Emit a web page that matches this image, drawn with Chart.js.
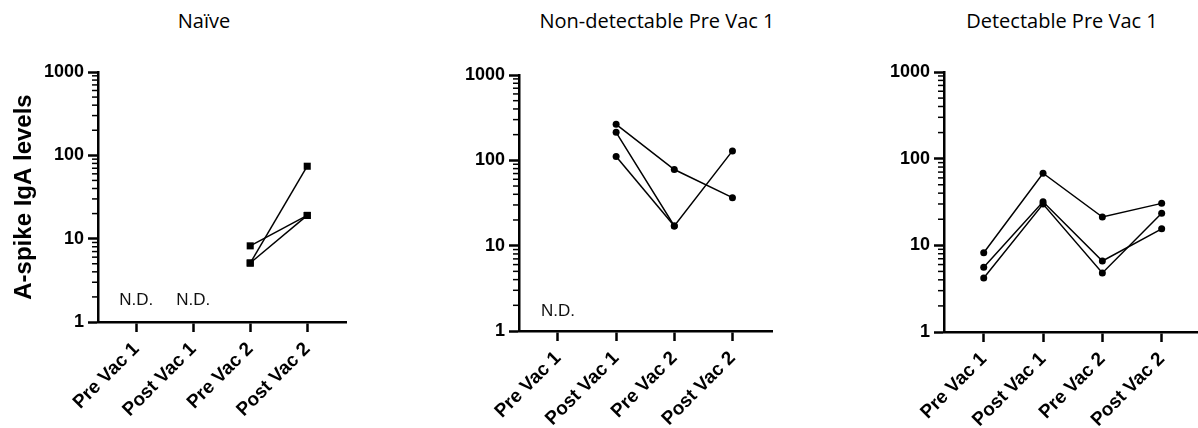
<!DOCTYPE html>
<html>
<head>
<meta charset="UTF-8">
<title>A-spike IgA levels</title>
<style>
body {
	margin: 0;
	background: #fff;
	width: 1198px;
	height: 428px;
	overflow: hidden;
	position: relative;
}
canvas {
	position: absolute;
	top: 0;
}
.ptitle {
	position: absolute;
	top: 11px;
	width: 340px;
	margin-left: -170px;
	text-align: center;
	font: 20px/20px 'Open Sans', sans-serif;
	color: #000;
}
</style>
<script src="https://cdn.jsdelivr.net/npm/chart.js@4/dist/chart.umd.min.js"></script>
</head>
<body>
<div class="ptitle" style="left:204px">Naïve</div>
<div class="ptitle" style="left:657px">Non-detectable Pre Vac 1</div>
<div class="ptitle" style="left:1062px">Detectable Pre Vac 1</div>
<canvas id="c1" width="351" height="428" style="left:0px"></canvas>
<canvas id="c2" width="356" height="428" style="left:420px"></canvas>
<canvas id="c3" width="366" height="428" style="left:840px"></canvas>
<script>
var categories = ['Pre Vac 1', 'Post Vac 1', 'Pre Vac 2', 'Post Vac 2'];
var yDecades = [1, 10, 100, 1000];
var yMinorSteps = [2, 3, 4, 5, 6, 7, 8, 9];
var yTitle = 'A-spike IgA levels';

// Naïve
var naive1 = [null, null, 8.2, 19];
var naive2 = [null, null, 5.1, 74];
var naive3 = [null, null, 5.1, 19];
var naiveND = [0, 1];

// Non-detectable Pre Vac 1
var nonDet1 = [null, 264, 78, 36.5];
var nonDet2 = [null, 213, 17, 129];
var nonDet3 = [null, 111, 17, null];
var nonDetND = [0];

// Detectable Pre Vac 1
var det1 = [8.2, 68, 21.2, 30.5];
var det2 = [5.6, 31.8, 6.6, 15.5];
var det3 = [4.2, 29.9, 4.8, 23.4];
var detND = [];

var fontFamily = '"Liberation Sans", Arial, Helvetica, sans-serif';

function isDecade(v) {
	return yDecades.indexOf(v) >= 0;
}

// petits ticks du log + texte N.D.
var extrasPlugin = {
	id: 'extras',
	afterDraw: function(chart, args, opts) {
		var ctx = chart.ctx;
		var xs = chart.scales.x, ys = chart.scales.y;
		var left = chart.chartArea.left;
		ctx.save();
		ctx.strokeStyle = '#000';
		ctx.lineWidth = 1.5;
		ys.ticks.forEach(function(t) {
			if (isDecade(t.value)) return;
			var py = ys.getPixelForValue(t.value);
			ctx.beginPath();
			ctx.moveTo(left - 6, py);
			ctx.lineTo(left, py);
			ctx.stroke();
		});
		ctx.fillStyle = '#111';
		ctx.font = '17px ' + fontFamily;
		ctx.textAlign = 'center';
		ctx.textBaseline = 'middle';
		opts.nd.forEach(function(i) {
			ctx.fillText('N.D.', xs.getPixelForValue(i), ys.getPixelForValue(opts.ndLevel));
		});
		ctx.restore();
	}
};

function makeChart(id, series, o) {
	var datasets = series.map(function(vals) {
		return {
			data: vals.map(function(v, i) { return {x: i, y: v}; }),
			borderColor: '#000',
			borderWidth: 1.5,
			backgroundColor: '#000',
			pointBackgroundColor: '#000',
			pointBorderColor: '#000',
			pointStyle: o.pointStyle,
			pointRadius: o.pointRadius,
			pointBorderWidth: 0,
			fill: false,
			tension: 0
		};
	});
	return new Chart(document.getElementById(id), {
		type: 'line',
		data: {datasets: datasets},
		plugins: [extrasPlugin],
		options: {
			responsive: false,
			animation: false,
			layout: {padding: {left: o.padLeft, top: o.padTop, right: 0, bottom: 0}},
			plugins: {
				legend: {display: false},
				tooltip: {enabled: false},
				extras: {nd: o.nd, ndLevel: o.ndLevel}
			},
			scales: {
				x: {
					type: 'linear',
					min: -0.67,
					max: 3.68,
					afterBuildTicks: function(s) {
						s.ticks = categories.map(function(c, i) { return {value: i}; });
					},
					afterFit: function(s) {
						s.height = o.xHeight;
						s.paddingLeft = 0;
						s.paddingRight = 0;
					},
					grid: {drawOnChartArea: false, tickLength: 10, tickWidth: 2.5, tickColor: '#000'},
					border: {color: '#000', width: 2.5},
					ticks: {
						autoSkip: false,
						minRotation: 45,
						maxRotation: 45,
						padding: 6,
						color: '#000',
						font: {family: fontFamily, size: 19, weight: 'bold'},
						callback: function(v) { return categories[v]; }
					}
				},
				y: {
					type: 'logarithmic',
					min: 1,
					max: 1000,
					afterBuildTicks: function(s) {
						var t = [];
						yDecades.forEach(function(d, k) {
							t.push({value: d});
							if (k < yDecades.length - 1) {
								yMinorSteps.forEach(function(m) { t.push({value: m * d}); });
							}
						});
						s.ticks = t;
					},
					afterFit: function(s) { s.width = o.yWidth; },
					grid: {
						drawOnChartArea: false,
						tickLength: 10,
						tickWidth: 2.5,
						tickColor: function(c) {
							return c.tick && isDecade(c.tick.value) ? '#000' : 'rgba(0,0,0,0)';
						}
					},
					border: {color: '#000', width: 2.5},
					ticks: {
						autoSkip: false,
						padding: 4,
						color: '#000',
						font: {family: fontFamily, size: 18, weight: 'bold'},
						callback: function(v) { return isDecade(v) ? String(v) : ''; }
					},
					title: {
						display: !!o.yTitle,
						text: o.yTitle || '',
						color: '#000',
						padding: {top: 3, bottom: 0},
						font: {family: fontFamily, size: 24, weight: 'bold'}
					}
				}
			}
		}
	});
}

makeChart('c1', [naive1, naive2, naive3], {
	padLeft: 7, padTop: 72, yWidth: 91, xHeight: 106,
	pointStyle: 'rect', pointRadius: 5,
	nd: naiveND, ndLevel: 1.84, yTitle: yTitle
});
makeChart('c2', [nonDet1, nonDet2, nonDet3], {
	padLeft: 0, padTop: 75, yWidth: 99, xHeight: 97,
	pointStyle: 'circle', pointRadius: 3.5,
	nd: nonDetND, ndLevel: 1.68
});
makeChart('c3', [det1, det2, det3], {
	padLeft: 0, padTop: 72, yWidth: 104, xHeight: 96,
	pointStyle: 'circle', pointRadius: 3.5,
	nd: detND, ndLevel: 1.7
});
</script>
</body>
</html>
